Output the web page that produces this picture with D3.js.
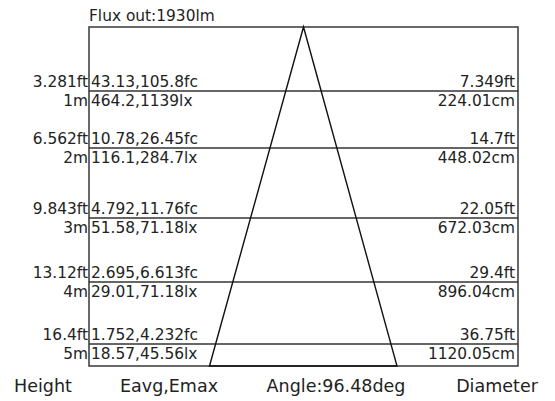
<!DOCTYPE html>
<html>
<head>
<meta charset="utf-8">
<script src="https://cdn.jsdelivr.net/npm/d3@7"></script>
<style>
  body { margin: 0; background: #fff; }
  text { font-family: "DejaVu Sans", Verdana, sans-serif; fill: #222; }
</style>
</head>
<body>
<div class="container"></div>
<script>
(function(d3) {
  "use strict";

  var fluxOut = 1930;
  var beamAngle = 96.48;

  var heightsM = [1, 2, 3, 4, 5];
  var heightsFt = [3.281, 6.562, 9.843, 13.12, 16.4];

  var eavgFc = [43.13, 10.78, 4.792, 2.695, 1.752];
  var emaxFc = [105.8, 26.45, 11.76, 6.613, 4.232];
  var eavgLx = [464.2, 116.1, 51.58, 29.01, 18.57];
  var emaxLx = [1139, 284.7, 71.18, 71.18, 45.56];

  var diameterFt = [7.349, 14.7, 22.05, 29.4, 36.75];
  var diameterCm = [224.01, 448.02, 672.03, 896.04, 1120.05];

  var footerLabels = ["Height", "Eavg,Emax", "Angle:" + beamAngle + "deg", "Diameter"];

  var width = 555, height = 401;
  var box = { left: 89, right: 518, top: 27, bottom: 366 };

  function main() {
    var rows = heightsM.map(function(m, i) {
      return {
        m: m,
        ft: heightsFt[i],
        fc: eavgFc[i] + "," + emaxFc[i] + "fc",
        lx: eavgLx[i] + "," + emaxLx[i] + "lx",
        dft: diameterFt[i],
        dcm: diameterCm[i]
      };
    });

    var svg = d3.select(".container").append("svg")
        .attr("width", width)
        .attr("height", height);

    // distance from lamp -> row line (rows in the original are not evenly spaced)
    var y = d3.scaleLinear()
        .domain([0, 1, 2, 3, 4, 5])
        .range([box.top, 91, 148, 218, 282, 344]);

    // beam spread: -1 / 1 = left / right edge of the cone at the floor
    var beam = d3.scaleLinear()
        .domain([-1, 0, 1])
        .range([209.5, 303.5, 397]);

    svg.append("text")
        .attr("x", box.left)
        .attr("y", 21)
        .style("font-size", "15.4px")
        .text("Flux out:" + fluxOut + "lm");

    svg.append("rect")
        .attr("x", box.left)
        .attr("y", box.top)
        .attr("width", box.right - box.left)
        .attr("height", box.bottom - box.top)
        .style("fill", "none")
        .style("stroke", "#444")
        .style("stroke-width", 1.6);

    var row = svg.append("g")
        .attr("class", "rows")
      .selectAll(".row")
        .data(rows)
      .enter().append("g")
        .attr("class", "row")
        .attr("transform", function(d) { return svgTranslateString(0, y(d.m)); });

    row.append("line")
        .attr("x1", box.left)
        .attr("x2", box.right)
        .style("stroke", "#333")
        .style("stroke-width", 1.3);

    var labels = [
      { key: function(d) { return d.ft + "ft"; }, x: box.left - 1, dy: -4, anchor: "end" },
      { key: function(d) { return d.m + "m"; }, x: box.left - 1, dy: 15, anchor: "end" },
      { key: function(d) { return d.fc; }, x: box.left + 2, dy: -4, anchor: "start" },
      { key: function(d) { return d.lx; }, x: box.left + 2, dy: 15, anchor: "start" },
      { key: function(d) { return d.dft + "ft"; }, x: box.right - 3, dy: -4, anchor: "end" },
      { key: function(d) { return d.dcm + "cm"; }, x: box.right - 3, dy: 15, anchor: "end" }
    ];

    labels.forEach(function(l) {
      row.append("text")
          .attr("x", l.x)
          .attr("y", l.dy)
          .attr("text-anchor", l.anchor)
          .style("font-size", "15.4px")
          .text(l.key);
    });

    var cone = d3.line()
        .x(function(p) { return beam(p[0]); })
        .y(function(p) { return p[1]; });

    svg.append("path")
        .datum([[-1, box.bottom], [0, box.top], [1, box.bottom]])
        .attr("d", function(d) { return cone(d) + "Z"; })
        .style("fill", "none")
        .style("stroke", "#111")
        .style("stroke-width", 1.4);

    // footer captions sit at uneven spots under the box
    var footerX = [43, 169, 336, 497];

    svg.append("g")
        .attr("class", "footer")
      .selectAll("text")
        .data(footerLabels)
      .enter().append("text")
        .attr("x", function(d, i) { return footerX[i]; })
        .attr("y", 392)
        .attr("text-anchor", "middle")
        .style("font-size", "17.5px")
        .text(function(d) { return d; });
  }

  function svgTranslateString(x, y) {
    return "translate(" + x + "," + y + ")";
  }

  main();

}(d3));
</script>
</body>
</html>
